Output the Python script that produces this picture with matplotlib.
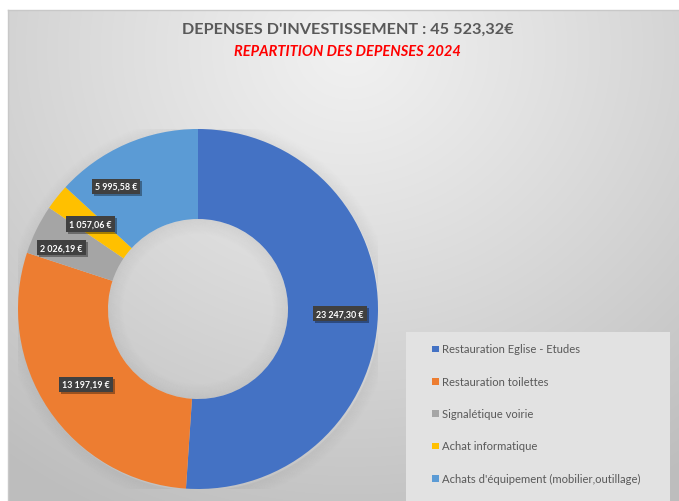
import numpy as np
import matplotlib
matplotlib.use("Agg")
import matplotlib.pyplot as plt
from matplotlib.patches import Rectangle, Wedge
import matplotlib.patheffects as pe

# ---------------- data ----------------
categories = [
    "Restauration Eglise - Etudes",
    "Restauration toilettes",
    "Signalétique voirie",
    "Achat informatique",
    "Achats d'équipement (mobilier,outillage)",
]
values = [23247.30, 13197.19, 2026.19, 1057.06, 5995.58]
value_labels = ["23 247,30 €", "13 197,19 €", "2 026,19 €", "1 057,06 €", "5 995,58 €"]
title_text = "DEPENSES D'INVESTISSEMENT : 45 523,32€"
subtitle_text = "REPARTITION DES DEPENSES 2024"

# ---------------- style ----------------
colors = ["#4472C4", "#ED7D31", "#A5A5A5", "#FFC000", "#5B9BD5"]
label_radius = [0.79, 0.75, 0.83, 0.76, 0.82]
label_angle_shift = [0, 0, 2, 0, 10]
FONT = ["Lato", "DejaVu Sans"]

W, H = 679, 502
fig = plt.figure(figsize=(W / 100, H / 100), dpi=100)
fig.patch.set_facecolor("white")

# background with radial gradient
bg = fig.add_axes([0, 0, 1, 1])
bg.set_xlim(0, W)
bg.set_ylim(H, 0)
bg.axis("off")
yy, xx = np.mgrid[0:H, 0:W]
d = np.sqrt((xx - 350) ** 2 + ((yy - 50) * 1.1) ** 2)
t = np.clip(d / 560, 0, 1)
c = 0.945 - 0.20 * t ** 1.1
img = np.dstack([c, c, c])
img[:11, :, :] = 1.0
img[:, :8, :] = 1.0
bg.imshow(img, extent=(0, W, H, 0), interpolation="bilinear", aspect="auto")
bg.plot([8, W], [11, 11], color="#c8c8c8", lw=1)
bg.plot([8, 8], [11, H], color="#c8c8c8", lw=1)

# legend box
bg.add_patch(Rectangle((406, 333), 264, H, facecolor="#e2e2e2", edgecolor="none", zorder=2))
for i, (lab, col) in enumerate(zip(categories, colors)):
    y = 350 + i * 32.3
    bg.add_patch(Rectangle((432, y - 3.2), 6.5, 6.5, facecolor=col, edgecolor="none", zorder=3))
    bg.text(442, y, lab, fontsize=8.1, color="#595959", va="center", ha="left",
            family=FONT, zorder=3)

# titles
fig.text(0.512, 1 - 30 / H, title_text, ha="center", va="center", fontsize=11.7,
         fontweight="bold", color="#595959", family=FONT)
fig.text(0.512, 1 - 52 / H, subtitle_text, ha="center", va="center", fontsize=10.5,
         fontweight="bold", style="italic", color="#FF0000", family=FONT)

# donut
cx, cy, R = 198, 310, 180
ax = fig.add_axes([(cx - R) / W, (H - cy - R) / H, 2 * R / W, 2 * R / H])

wedges, _ = ax.pie(values, colors=colors, startangle=90, counterclock=False,
                   radius=1.0, wedgeprops=dict(width=0.5, edgecolor="none"))
for w in wedges:
    w.set_zorder(2)
ax.set_xlim(-1, 1)
ax.set_ylim(-1, 1)
ax.set_aspect("auto")
ax.axis("off")

# soft shadows
for k in range(12):
    rr = 1.0 + 0.006 * (k + 1)
    ax.add_patch(Wedge((0.008, -0.01), rr, 0, 360, width=0.006, facecolor="black",
                       alpha=0.045 * (1 - k / 12), edgecolor="none", zorder=1))
for k in range(14):
    rr = 0.5 - 0.006 * k
    ax.add_patch(Wedge((0.0, 0.0), rr, 0, 360, width=0.006, facecolor="black",
                       alpha=0.05 * (1 - k / 14), edgecolor="none", zorder=1))

total = sum(values)
cum = 0.0
for i, v in enumerate(values):
    mid = 90 - 360 * (cum + v / 2) / total + label_angle_shift[i]
    cum += v
    r = label_radius[i]
    x, y = r * np.cos(np.radians(mid)), r * np.sin(np.radians(mid))
    t = ax.text(x, y, value_labels[i], ha="center", va="center", fontsize=6.4,
                fontweight="bold", color="white", family=FONT, zorder=5,
                bbox=dict(boxstyle="square,pad=0.35", facecolor="#404040", edgecolor="none"))
    t.get_bbox_patch().set_path_effects([
        pe.SimplePatchShadow(offset=(1.5, -1.5), shadow_rgbFace="black", alpha=0.35),
        pe.Normal()])

fig.savefig("out.png", dpi=100)
